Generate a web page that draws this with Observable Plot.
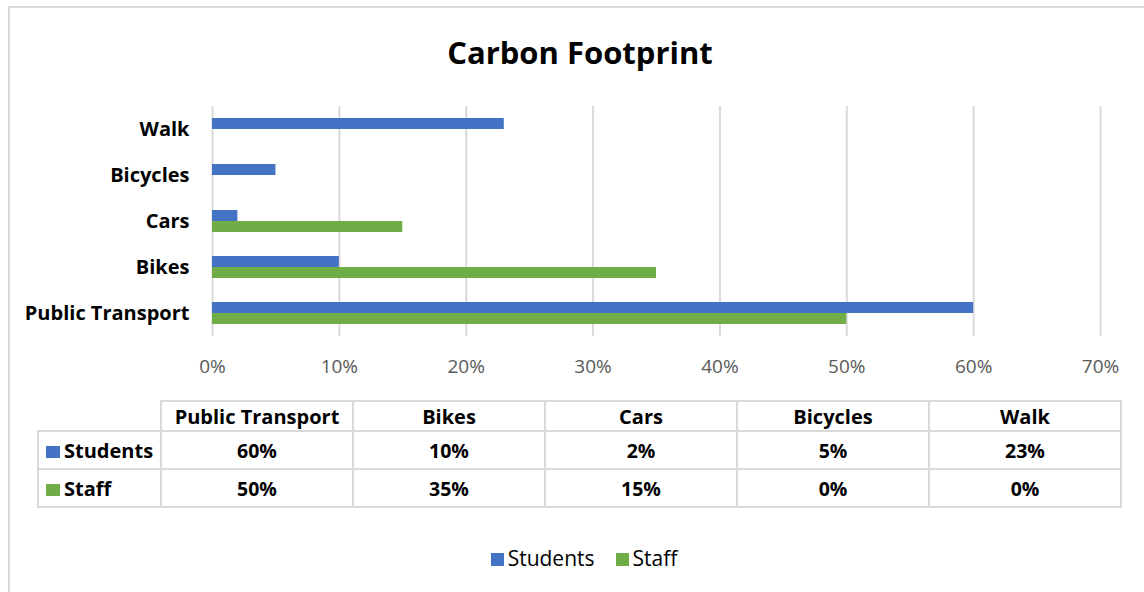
<!DOCTYPE html>
<html>
<head>
<meta charset="utf-8">
<script src="https://cdn.jsdelivr.net/npm/d3@7"></script>
<script src="https://cdn.jsdelivr.net/npm/@observablehq/plot@0.6"></script>
<style>
  html, body { margin: 0; padding: 0; background: #fff; }
  body { width: 1144px; height: 592px; overflow: hidden; position: relative; font-family: "Open Sans", sans-serif; }
  #frame { position: absolute; left: 8px; top: 6px; width: 1150px; height: 600px; border: 2px solid #d9d9d9; box-sizing: border-box; }
  #title { position: absolute; left: 0; width: 1160px; top: 31px; text-align: center; font-weight: 700; font-size: 31px; color: #000; line-height: 42px; }
  #chart { position: absolute; left: 0; top: 90px; }
  table { position: absolute; left: 37px; top: 400px; border-collapse: collapse; font-weight: 700; font-size: 19.5px; color: #000; }
  td { border: 2px solid #d9d9d9; text-align: center; padding: 0; }
  td.blank { border: none; }
  tr.head td { height: 28px; font-size: 20px; }
  tr.row td { height: 36px; }
  td.lab { text-align: left; padding-left: 7px; white-space: nowrap; font-size: 20px; }
  .key { display: inline-block; width: 14px; height: 12px; margin-right: 4px; vertical-align: 0px; }
  #legend { position: absolute; top: 544px; left: 0; width: 1168px; text-align: center; font-size: 21px; color: #000; }
  #legend .key { width: 13px; height: 13px; margin-right: 4px; }
  #legend span.item { margin: 0 10.5px; }
</style>
</head>
<body>
<div id="frame"></div>
<div id="title">Carbon Footprint</div>
<div id="chart"></div>
<div id="tablewrap"></div>
<div id="legend"></div>
<script>
const categories = ["Public Transport", "Bikes", "Cars", "Bicycles", "Walk"];
const series = ["Students", "Staff"];
const students = [60, 10, 2, 5, 23];
const staff = [50, 35, 15, 0, 0];
const xTicks = [0, 10, 20, 30, 40, 50, 60, 70];
const colors = ["#4472C4", "#70AD47"];

const values = {Students: students, Staff: staff};
const data = [];
series.forEach(s => categories.forEach((c, i) => data.push({category: c, series: s, value: values[s][i]})));

const chart = Plot.plot({
  width: 1144,
  height: 300,
  marginLeft: 212,
  marginRight: 44,
  marginTop: 16,
  marginBottom: 54,
  style: {fontFamily: "'Open Sans', sans-serif", background: "transparent"},
  x: {domain: [0, 70], label: null},
  fy: {domain: categories.slice().reverse(), padding: 0, label: null},
  y: {domain: series, paddingInner: 0, paddingOuter: 0.9167, axis: null},
  color: {domain: series, range: colors},
  marks: [
    Plot.gridX(xTicks, {stroke: "#d9d9d9", strokeOpacity: 1, strokeWidth: 2}),
    Plot.barX(data, {x: "value", y: "series", fy: "category", fill: "series"}),
    Plot.axisX({ticks: xTicks, tickSize: 0, tickPadding: 23, tickFormat: d => d + "%", fontSize: 19, color: "#595959", label: null}),
    Plot.axisFy({anchor: "left", tickSize: 0, tickPadding: 23, fontSize: 20, fontWeight: "bold", color: "#000", label: null})
  ]
});
document.getElementById("chart").appendChild(chart);

// data table
let html = '<table><colgroup><col style="width:123px">' + categories.map(() => '<col style="width:192px">').join("") + '</colgroup>';
html += '<tr class="head"><td class="blank"></td>' + categories.map(c => `<td>${c}</td>`).join("") + '</tr>';
series.forEach((s, k) => {
  html += `<tr class="row"><td class="lab"><span class="key" style="background:${colors[k]}"></span>${s}</td>` +
    values[s].map(v => `<td>${v}%</td>`).join("") + '</tr>';
});
html += '</table>';
document.getElementById("tablewrap").innerHTML = html;

document.getElementById("legend").innerHTML = series.map((s, k) =>
  `<span class="item"><span class="key" style="background:${colors[k]}"></span>${s}</span>`).join("");
</script>
</body>
</html>
